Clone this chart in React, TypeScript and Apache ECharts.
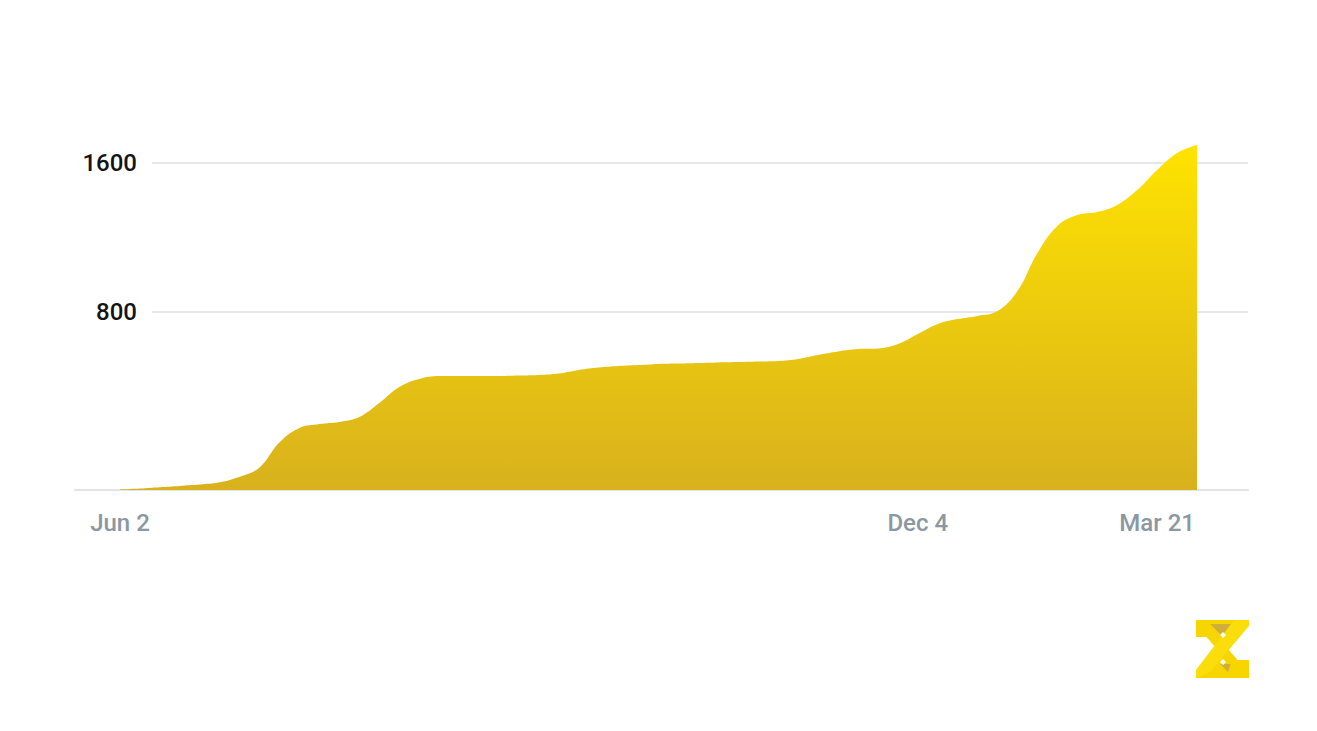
import React, { useEffect, useRef } from "react";
import * as echarts from "echarts";

// Category dates (irregular spacing, as in the source chart)
const dates: string[] = [
  "Jun 2", "Jun 7", "Jun 11", "Jun 16", "Jun 21", "Jun 25", "Jun 30", "Jul 5", "Jul 9", "Jul 14",
  "Jul 18", "Jul 23", "Jul 28", "Aug 1", "Aug 6", "Aug 11", "Aug 15", "Aug 20", "Aug 25", "Aug 29",
  "Sep 3", "Sep 8", "Sep 12", "Sep 17", "Sep 22", "Sep 26", "Oct 1", "Oct 6", "Oct 10", "Oct 15",
  "Oct 20", "Oct 24", "Oct 29", "Nov 3", "Nov 7", "Nov 12", "Nov 17", "Nov 21", "Nov 26", "Nov 30",
  "Dec 4", "Dec 13", "Dec 22", "Dec 31", "Jan 9", "Jan 18", "Jan 27", "Feb 5", "Feb 14", "Feb 23",
  "Mar 3", "Mar 12", "Mar 21", "Mar 25", "Mar 29",
];

// Values
const values: number[] = [
  -153, -148, -141, -134, -127, -115, -85, -35, 100, 177,
  198, 209, 236, 311, 397, 440, 456, 456, 456, 456,
  459, 462, 470, 489, 502, 510, 515, 521, 523, 526,
  529, 531, 534, 537, 548, 569, 588, 601, 604, 628,
  682, 736, 762, 779, 805, 913, 1117, 1262, 1321, 1337,
  1375, 1455, 1563, 1654, 1697,
];

const shownLabels: string[] = ["Jun 2", "Dec 4", "Mar 21"];
const yTicks: number[] = [800, 1600];
const yMin = -156;
const yMax = 1697;

export default function App() {
  const ref = useRef<HTMLDivElement>(null);

  useEffect(() => {
    if (!ref.current) return;
    const chart = echarts.init(ref.current, null, { renderer: "svg" });
    const top = 145;
    const bottom = 241;
    chart.setOption({
      animation: false,
      backgroundColor: "#ffffff",
      grid: [
        { left: 120, right: 120, top, bottom },
        { left: 152, right: 69, top, bottom },
        { left: 75, right: 69, top, bottom },
      ],
      xAxis: [
        {
          gridIndex: 0,
          type: "category",
          data: dates,
          boundaryGap: false,
          axisLine: { show: false },
          axisTick: { show: false },
          splitLine: { show: false },
          axisLabel: {
            interval: (_i: number, v: string) => shownLabels.includes(v),
            color: "#8b97a2",
            fontSize: 24,
            fontWeight: 500,
            fontFamily: "Roboto",
            margin: 21,
          },
        },
        {
          gridIndex: 1,
          type: "value",
          min: 0,
          max: 1,
          show: false,
        },
        {
          gridIndex: 2,
          type: "value",
          min: 0,
          max: 1,
          axisLine: { show: true, onZero: false, lineStyle: { color: "#e3e4e8", width: 2 } },
          axisTick: { show: false },
          axisLabel: { show: false },
          splitLine: { show: false },
        },
      ],
      yAxis: [
        { gridIndex: 0, type: "value", min: yMin, max: yMax, show: false },
        {
          gridIndex: 1,
          type: "value",
          min: yMin,
          max: yMax,
          axisLine: { show: false },
          axisTick: { show: false, customValues: yTicks },
          axisLabel: {
            customValues: yTicks,
            formatter: (v: number) => String(v),
            color: "#141414",
            fontSize: 24,
            fontWeight: 500,
            fontFamily: "Roboto",
            margin: 15,
          },
          splitLine: { show: true, lineStyle: { color: "#e6e7eb", width: 2 } },
        },
        { gridIndex: 2, type: "value", min: yMin, max: yMax, show: false },
      ],
      series: [
        {
          type: "line",
          xAxisIndex: 0,
          yAxisIndex: 0,
          data: values,
          smooth: 0.4,
          symbol: "none",
          lineStyle: { width: 0 },
          z: 5,
          areaStyle: {
            origin: "start",
            opacity: 1,
            color: new echarts.graphic.LinearGradient(0, 0, 0, 1, [
              { offset: 0, color: "#ffe300" },
              { offset: 1, color: "#d8b11d" },
            ]),
          },
        },
      ],
      graphic: [
        {
          type: "group",
          left: 1196,
          top: 620,
          children: [
            {
              type: "polygon",
              shape: { points: [[0, 0], [53, 0], [53, 5], [32, 29], [53, 53], [53, 58], [0, 58], [0, 53], [21, 29], [0, 5]] },
              style: { fill: "#f7d600" },
            },
            {
              type: "polygon",
              shape: { points: [[0, 0], [17, 0], [17, 17], [0, 17]] },
              style: { fill: "#f7d600" },
            },
            {
              type: "polygon",
              shape: { points: [[14, 4], [50, 4], [40, 16], [26, 16]] },
              style: { fill: "#cfae3a" },
            },
            {
              type: "polygon",
              shape: { points: [[24, 44], [36, 44], [50, 54], [34, 54]] },
              style: { fill: "#cfae3a" },
            },
            {
              type: "polygon",
              shape: { points: [[38, 0], [53, 0], [53, 6], [14, 52], [0, 58], [0, 50]] },
              style: { fill: "#fbdd0c" },
            },
            {
              type: "polygon",
              shape: { points: [[36, 40], [53, 40], [53, 58], [30, 58]] },
              style: { fill: "#f7d600" },
            },
            {
              type: "polygon",
              shape: { points: [[27, 12], [30, 15], [27, 18], [24, 15]] },
              style: { fill: "#ffffff" },
            },
            {
              type: "polygon",
              shape: { points: [[27, 39], [30, 42], [27, 45], [24, 42]] },
              style: { fill: "#ffffff" },
            },
          ],
        },
      ],
    });
    return () => chart.dispose();
  }, []);

  return (
    <div
      ref={ref}
      style={{ position: "fixed", left: 0, top: 0, width: 1317, height: 731 }}
    />
  );
}
